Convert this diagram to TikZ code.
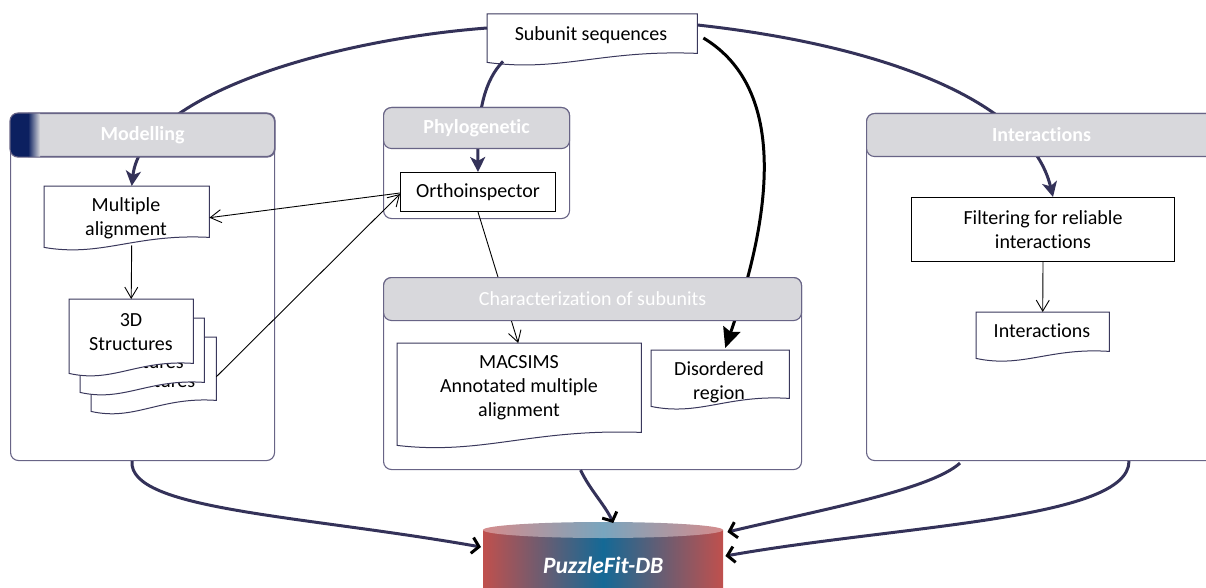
\documentclass[tikz,border=0pt]{standalone}
\usepackage{fontspec}
\setmainfont{Carlito}[Ligatures=CommonOff]
\usetikzlibrary{arrows.meta,calc}
\definecolor{navyline}{RGB}{52,50,89}
\definecolor{cborder}{RGB}{104,100,134}
\definecolor{docborder}{RGB}{58,56,92}
\definecolor{headgray}{RGB}{216,216,220}
\definecolor{stripnavy}{RGB}{12,32,96}
\definecolor{dbred}{RGB}{192,80,77}
\definecolor{dbblue}{RGB}{20,105,150}
\definecolor{dbredlt}{RGB}{214,140,140}
\definecolor{dbbluelt}{RGB}{120,165,190}
\tikzset{
  cbody/.style={draw=cborder, line width=1.1pt, fill=white, rounded corners=8pt, anchor=north west, inner sep=0pt},
  chead/.style={draw=cborder, line width=1.1pt, fill=headgray, rounded corners=8pt, anchor=north west, inner sep=0pt, text=white, font=\fontsize{20}{24}\selectfont\bfseries},
  plainbox/.style={draw=black, line width=1pt, fill=white, anchor=north west, inner sep=0pt, align=center},
  docbox/.style={anchor=north west, inner sep=0pt, draw=none},
  docline/.style={draw=docborder, line width=1pt, fill=white},
  txt/.style={align=center, inner sep=0pt},
  navyarrow/.style={draw=navyline, line width=3pt, -{Stealth[length=15pt,width=15pt,inset=4pt]}},
  blackarrow/.style={draw=black, line width=3pt, -{Stealth[length=20pt,width=18pt,inset=3pt]}},
  thinarrow/.style={draw=black, line width=0.9pt, -{Straight Barb[length=11pt,width=13pt]}},
  dbarrow/.style={draw=navyline, line width=3pt, -{Straight Barb[length=7pt,width=16pt,black]}},
}
\newcommand\docoutline[2]{%
  \filldraw[docline] (#1.north west) -- (#1.north east) -- (#1.south east)
   .. controls ($(#1.south east)!0.45!(#1.south west)+(0,-4)$) and ($(#1.south east)!0.65!(#1.south west)+(0,{#2+10})$) .. ($(#1.south west)+(0,#2)$) -- cycle;}
\begin{document}
\begin{tikzpicture}[x=1pt,y=-1pt, every node/.style={font=\fontsize{20}{24}\selectfont}]
\useasboundingbox (0,0) rectangle (1206,588);
\clip (0,0) rectangle (1206,588);

% container bodies
\node[cbody, minimum width=264, minimum height=347] (modbox) at (10,113) {};
\node[cbody, minimum width=186, minimum height=111] (phybox) at (383,107) {};
\node[cbody, minimum width=418, minimum height=192] (charbox) at (383,277) {};
\node[cbody, minimum width=350, minimum height=347] (intbox) at (866,113) {};

% modelling contents
\node[docbox, minimum width=165, minimum height=51] (ma) at (44,186) {};
\docoutline{ma}{10}
\node[txt] (maT) at (126,218) {Multiple\\alignment};

\node[docbox, minimum width=125, minimum height=63] (s3) at (91,337) {};
\docoutline{s3}{11}
\node[txt] (s3T) at (153.5,369) {3D\\Structures};
\node[docbox, minimum width=124, minimum height=64] (s2) at (80,318) {};
\docoutline{s2}{10}
\node[txt] (s2T) at (142,350) {3D\\Structures};
\node[docbox, minimum width=124, minimum height=64] (s1) at (69,299) {};
\docoutline{s1}{10}
\node[txt] (s1T) at (131,332) {3D\\Structures};

% phylogenetic contents
\node[plainbox, minimum width=155, minimum height=39] (ortho) at (400,172) {Orthoinspector};

% characterization contents
\node[docbox, minimum width=244, minimum height=89] (mac) at (397,343) {};
\docoutline{mac}{13}
\node[txt] (macT) at (519,388) {MACSIMS\\Annotated multiple\\alignment};
\node[docbox, minimum width=138, minimum height=48] (dis) at (651,350) {};
\docoutline{dis}{8}
\node[txt] (disT) at (719,382) {Disordered\\region};

% interactions contents
\node[plainbox, minimum width=263, minimum height=64] (filt) at (911,197) {Filtering for reliable\\interactions};
\node[docbox, minimum width=133, minimum height=39] (idoc) at (976,312) {};
\docoutline{idoc}{7}
\node[txt] (idocT) at (1042,331) {Interactions};

% subunit sequences
\node[docbox, minimum width=210, minimum height=39] (sub) at (487,14) {};
\docoutline{sub}{9}
\node[txt] (subT) at (591,35) {Subunit sequences};

% connectors from subunit sequences
\draw[navyarrow] ($(sub.north west)+(0,14)$) .. controls (330,40) and (142,95) .. ($(ma.north)+(5,0)$);
\draw[navyarrow] ($(sub.south west)+(16,8)$) .. controls (485,80) and (477,110) .. (ortho.north);
\draw[navyarrow] ($(sub.north east)+(0,11)$) .. controls (880,45) and (1030,100) .. ($(filt.north)+(10,0)$);
\draw[blackarrow] ($(sub.north east)+(6,24)$) .. controls (790,90) and (770,220) .. ($(dis.north)+(5,-2)$);

% thin connectors
\draw[thinarrow] ($(ortho.west)+(0,1)$) -- ($(ma.east)+(0,6)$);
\draw[thinarrow] ($(s3.east)+(0,8)$) -- ($(ortho.west)+(0,2)$);
\draw[thinarrow] ($(ma.south)+(5,8)$) -- (s1.north);
\draw[thinarrow] (ortho.south) -- ($(mac.north)+(-1,0)$);
\draw[thinarrow] (filt.south) -- (idoc.north);

% headers
\node[chead, minimum width=264, minimum height=43] (modhead) at (10,113) {Modelling};
\begin{scope}
\clip[rounded corners=8pt] (modhead.north west) rectangle (modhead.south east);
\fill[stripnavy] (modhead.north west) rectangle ($(modhead.south west)+(18,0)$);
\shade[left color=stripnavy, right color=headgray] ($(modhead.north west)+(18,0)$) rectangle ($(modhead.south west)+(30,0)$);
\end{scope}
\draw[draw=cborder, line width=1.1pt, rounded corners=8pt] (modhead.north west) rectangle (modhead.south east);
\node[chead, minimum width=186, minimum height=41] (phyhead) at (383,107) {Phylogenetic};
\node[chead, minimum width=418, minimum height=43, font=\fontsize{20}{24}\selectfont] (charhead) at (383,277) {Characterization of subunits};
\node[chead, minimum width=350, minimum height=43] (inthead) at (866,113) {Interactions};

% database cylinder
\shade[left color=dbred, right color=dbred, middle color=dbblue] (483,530) rectangle (723,600);
\shade[left color=dbredlt, right color=dbredlt, middle color=dbbluelt] (603,530) ellipse [x radius=120, y radius=8];
\node[inner sep=0pt, minimum width=240, minimum height=86, anchor=north west, text=white, font=\fontsize{23.5}{28}\selectfont\bfseries\itshape] (db) at (483,522) {PuzzleFit-DB};

% connectors into database
\draw[dbarrow] ($(modbox.south west)+(122,0)$) .. controls (128,510) and (300,515) .. ($(db.north west)+(-2,25)$);
\draw[dbarrow] ($(charbox.south)+(-12,0)$) .. controls (590,490) and (605,505) .. ($(db.north)+(10,1)$);
\draw[dbarrow] ($(intbox.south west)+(94,2)$) .. controls (930,490) and (820,510) .. ($(db.north east)+(4,10)$);
\draw[dbarrow] ($(intbox.south west)+(263,0)$) .. controls (1129,520) and (900,525) .. ($(db.north east)+(2,34)$);
\end{tikzpicture}
\end{document}
